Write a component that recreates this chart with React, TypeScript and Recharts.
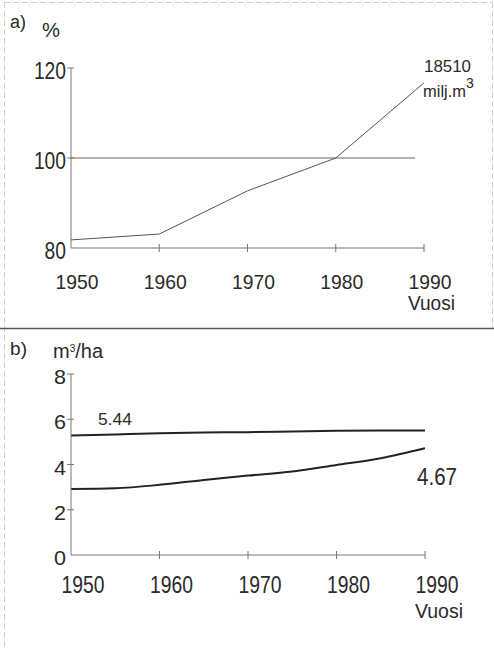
import React from 'react';
import { LineChart, Line, XAxis, YAxis, ReferenceLine } from 'recharts';

// a) growing stock index, % of 1980 level
const YEARS = [1950, 1960, 1970, 1980, 1990];
const stockIndex = [81.8, 83.1, 92.7, 100, 116.7];
const INDEX_TICKS = [80, 100, 120];

// b) increment per hectare, m3/ha
const GROWTH_YEARS = [1950, 1955, 1960, 1965, 1970, 1975, 1980, 1985, 1990];
const upperGrowth = [5.28, 5.33, 5.38, 5.41, 5.43, 5.46, 5.49, 5.5, 5.5];
const lowerGrowth = [2.92, 2.95, 3.1, 3.32, 3.51, 3.69, 3.98, 4.28, 4.72];
const GROWTH_TICKS = [0, 2, 4, 6, 8];

const FONT = "'Liberation Sans Narrow', 'Liberation Sans', Arial, sans-serif";
const INK = '#2a2a2a';
const AXIS = '#777';

const indexRows = YEARS.map((year, i) => ({ year, value: stockIndex[i] }));
const growthRows = GROWTH_YEARS.map((year, i) => ({
  year,
  upper: upperGrowth[i],
  lower: lowerGrowth[i],
}));

function XTick(props: any) {
  const { x, y, payload, dx, base, fontSize } = props;
  const first = payload.value === YEARS[0];
  return (
    <g>
      {!first && <line x1={x} x2={x} y1={y - 4} y2={y + 4} stroke={AXIS} />}
      <text
        x={x + dx}
        y={y + base}
        textAnchor="middle"
        fontFamily={FONT}
        fontSize={fontSize}
        fill={INK}
        textLength={43}
        lengthAdjust="spacingAndGlyphs"
      >
        {payload.value}
      </text>
    </g>
  );
}

function YTick(props: any) {
  const { x, y, payload, base, fontSize, digitWidth, skip } = props;
  const label = String(payload.value);
  return (
    <g>
      {payload.value !== skip && <line x1={x - 4} x2={x + 3} y1={y} y2={y} stroke={AXIS} />}
      <text
        x={x - 5}
        y={y + base}
        textAnchor="end"
        fontFamily={FONT}
        fontSize={fontSize}
        fill={INK}
        textLength={label.length * digitWidth}
        lengthAdjust="spacingAndGlyphs"
      >
        {label}
      </text>
    </g>
  );
}

function Txt({ x, y, size, len, children }: any) {
  return (
    <text
      x={x}
      y={y}
      fontFamily={FONT}
      fontSize={size}
      fill={INK}
      textLength={len}
      lengthAdjust={len ? 'spacingAndGlyphs' : undefined}
    >
      {children}
    </text>
  );
}

export default function App() {
  return (
    <div style={{ position: 'absolute', left: 0, top: 0, width: 494, height: 649, background: '#fff' }}>
      <div style={{ position: 'absolute', left: 0, top: 0 }}>
        <LineChart width={494} height={328} data={indexRows} margin={{ top: 68, right: 70, bottom: 40, left: 11 }}>
          <XAxis
            dataKey="year"
            type="number"
            domain={[1950, 1990]}
            ticks={YEARS}
            height={40}
            stroke={AXIS}
            tickLine={false}
            tickSize={0}
            tickMargin={0}
            tick={(p: any) => <XTick {...p} dx={6} base={41} fontSize={21} />}
          />
          <YAxis
            type="number"
            domain={[80, 120]}
            ticks={INDEX_TICKS}
            width={60}
            stroke={AXIS}
            tickLine={false}
            tickSize={0}
            tickMargin={0}
            tick={(p: any) => <YTick {...p} base={10.5} fontSize={23} digitWidth={10.7} skip={80} />}
          />
          <ReferenceLine
            segment={[
              { x: 1950, y: 100 },
              { x: 1989, y: 100 },
            ]}
            stroke="#666"
            strokeWidth={1}
          />
          <Line
            type="linear"
            dataKey="value"
            stroke="#555"
            strokeWidth={1}
            dot={false}
            isAnimationActive={false}
          />
        </LineChart>
      </div>

      <div style={{ position: 'absolute', left: 0, top: 329 }}>
        <LineChart width={494} height={320} data={growthRows} margin={{ top: 45, right: 69, bottom: 54, left: 11 }}>
          <XAxis
            dataKey="year"
            type="number"
            domain={[1950, 1990]}
            ticks={YEARS}
            height={40}
            stroke={AXIS}
            tickLine={false}
            tickSize={0}
            tickMargin={0}
            tick={(p: any) => <XTick {...p} dx={12} base={38} fontSize={23} />}
          />
          <YAxis
            type="number"
            domain={[0, 8]}
            ticks={GROWTH_TICKS}
            width={60}
            stroke={AXIS}
            tickLine={false}
            tickSize={0}
            tickMargin={0}
            tick={(p: any) => <YTick {...p} base={10} fontSize={21} digitWidth={12} skip={0} />}
          />
          <Line
            type="monotone"
            dataKey="upper"
            stroke="#222"
            strokeWidth={2}
            dot={false}
            isAnimationActive={false}
          />
          <Line
            type="monotone"
            dataKey="lower"
            stroke="#222"
            strokeWidth={2}
            dot={false}
            isAnimationActive={false}
          />
        </LineChart>
      </div>

      <svg
        width={494}
        height={649}
        style={{ position: 'absolute', left: 0, top: 0, pointerEvents: 'none' }}
      >
        <line x1={4} x2={492} y1={2.5} y2={2.5} stroke="#ccc" strokeDasharray="6 3" />
        <line x1={4.5} x2={4.5} y1={2} y2={649} stroke="#ccc" strokeDasharray="6 3" />
        <line x1={492.5} x2={492.5} y1={2} y2={328} stroke="#ccc" strokeDasharray="6 3" />
        <line x1={0} x2={494} y1={328.5} y2={328.5} stroke="#555" strokeWidth={1.5} />

        <Txt x={10} y={28} size={19} len={16}>a)</Txt>
        <Txt x={42} y={37} size={21} len={18}>%</Txt>
        <Txt x={424} y={72} size={17} len={47}>18510</Txt>
        <text x={423} y={97} fontFamily={FONT} fontSize={17} fill={INK}>
          <tspan textLength={43} lengthAdjust="spacingAndGlyphs">milj.m</tspan>
          <tspan x={466} y={88} fontSize={14}>3</tspan>
        </text>
        <Txt x={408} y={310} size={21} len={47}>Vuosi</Txt>

        <Txt x={10} y={355} size={19} len={17}>b)</Txt>
        <text x={53} y={358} fontFamily={FONT} fontSize={20} fill={INK}>
          <tspan>m</tspan>
          <tspan dy={-6} fontSize={10}>3</tspan>
          <tspan dy={6}>/ha</tspan>
        </text>
        <Txt x={98} y={425} size={17} len={34}>5.44</Txt>
        <Txt x={417} y={485} size={23} len={40}>4.67</Txt>
        <Txt x={415} y={618} size={21} len={48}>Vuosi</Txt>
      </svg>
    </div>
  );
}
